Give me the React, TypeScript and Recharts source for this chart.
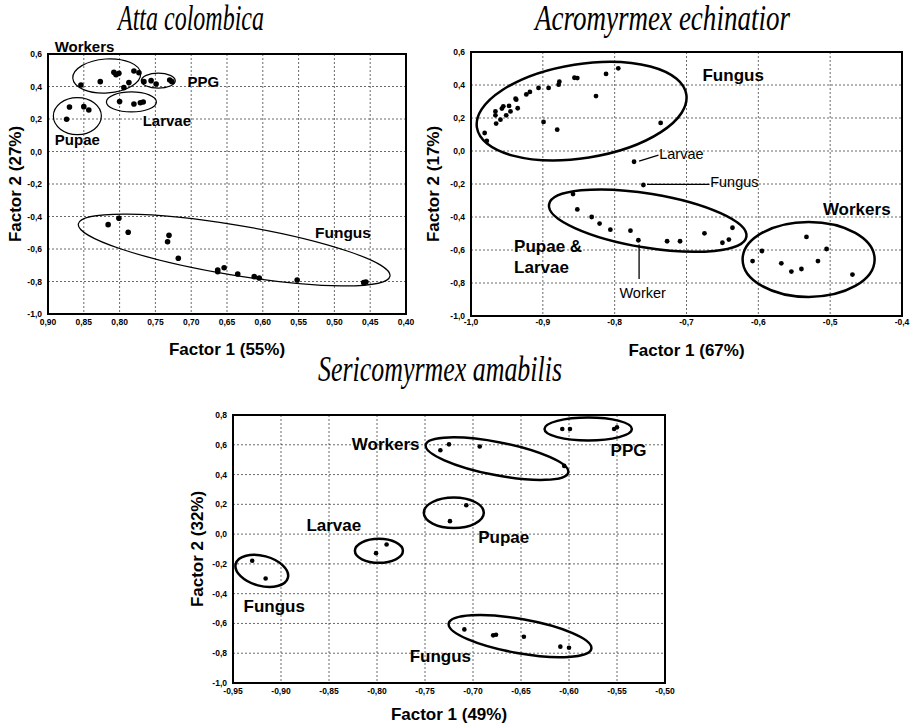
import {
  CartesianGrid, ReferenceArea, ReferenceDot, ReferenceLine,
  Scatter, ScatterChart, XAxis, YAxis,
} from "recharts";

type Pt = [number, number];

// Atta colombica
const attaWorkers: Pt[] = [[0.854, 0.409], [0.827, 0.43], [0.808, 0.487], [0.805, 0.473], [0.801, 0.481], [0.794, 0.393], [0.787, 0.424], [0.78, 0.495], [0.773, 0.485]];
const attaPPG: Pt[] = [[0.766, 0.43], [0.756, 0.436], [0.749, 0.415], [0.73, 0.44], [0.727, 0.43]];
const attaLarvae: Pt[] = [[0.8, 0.307], [0.78, 0.292], [0.771, 0.3], [0.767, 0.305]];
const attaPupae: Pt[] = [[0.874, 0.198], [0.87, 0.274], [0.85, 0.276], [0.843, 0.255]];
const attaFungus: Pt[] = [[0.816, -0.45], [0.801, -0.411], [0.788, -0.497], [0.733, -0.555], [0.731, -0.516], [0.718, -0.657], [0.663, -0.729], [0.663, -0.74], [0.654, -0.715], [0.635, -0.754], [0.612, -0.77], [0.605, -0.778], [0.552, -0.791], [0.459, -0.807], [0.456, -0.803]];

// Acromyrmex echinatior
const acroFungus: Pt[] = [[-0.981, 0.109], [-0.978, 0.061], [-0.966, 0.24], [-0.966, 0.216], [-0.965, 0.166], [-0.959, 0.19], [-0.957, 0.257], [-0.955, 0.271], [-0.951, 0.216], [-0.947, 0.273], [-0.945, 0.24], [-0.938, 0.317], [-0.937, 0.311], [-0.935, 0.259], [-0.923, 0.343], [-0.918, 0.358], [-0.906, 0.382], [-0.899, 0.176], [-0.892, 0.382], [-0.878, 0.402], [-0.877, 0.42], [-0.88, 0.129], [-0.856, 0.444], [-0.852, 0.442], [-0.826, 0.333], [-0.812, 0.467], [-0.795, 0.501], [-0.736, 0.17]];
const acroLoneLarvae: Pt[] = [[-0.773, -0.065]];
const acroLoneFungus: Pt[] = [[-0.76, -0.206]];
const acroPupaeLarvae: Pt[] = [[-0.858, -0.261], [-0.852, -0.354], [-0.832, -0.4], [-0.821, -0.44], [-0.806, -0.477], [-0.778, -0.483], [-0.767, -0.541], [-0.727, -0.547], [-0.709, -0.547], [-0.675, -0.499], [-0.65, -0.556], [-0.641, -0.537], [-0.636, -0.465]];
const acroWorkers: Pt[] = [[-0.608, -0.667], [-0.595, -0.606], [-0.568, -0.681], [-0.554, -0.731], [-0.54, -0.715], [-0.533, -0.521], [-0.517, -0.667], [-0.505, -0.594], [-0.469, -0.749]];

// Sericomyrmex amabilis
const seriPPG: Pt[] = [[-0.607, 0.706], [-0.599, 0.706], [-0.553, 0.706], [-0.55, 0.717]];
const seriWorkers: Pt[] = [[-0.734, 0.563], [-0.725, 0.603], [-0.693, 0.588], [-0.605, 0.458]];
const seriPupae: Pt[] = [[-0.707, 0.194], [-0.724, 0.087]];
const seriLarvae: Pt[] = [[-0.801, -0.128], [-0.79, -0.07]];
const seriFungusA: Pt[] = [[-0.93, -0.179], [-0.916, -0.298]];
const seriFungusB: Pt[] = [[-0.709, -0.64], [-0.679, -0.68], [-0.676, -0.676], [-0.647, -0.689], [-0.609, -0.756], [-0.6, -0.763]];

const yTicksA = [-1, -0.8, -0.6, -0.4, -0.2, 0, 0.2, 0.4, 0.6];
const xTicksA = [0.4, 0.45, 0.5, 0.55, 0.6, 0.65, 0.7, 0.75, 0.8, 0.85, 0.9];
const xTicksB = [-1, -0.9, -0.8, -0.7, -0.6, -0.5, -0.4];
const yTicksC = [-1, -0.8, -0.6, -0.4, -0.2, 0, 0.2, 0.4, 0.6, 0.8];
const xTicksC = [-0.95, -0.9, -0.85, -0.8, -0.75, -0.7, -0.65, -0.6, -0.55, -0.5];

type Ring = { x: number; y: number; rx: number; ry: number; angle: number };
type Tag = { x: number; y: number; text: string; size: number; bold: boolean; anchor: "start" | "middle" | "end" };
type Leader = { x1: number; y1: number; x2: number; y2: number };

const attaRings: Ring[] = [
  { x: 0.818, y: 0.465, rx: 34, ry: 17, angle: -4 },
  { x: 0.746, y: 0.436, rx: 17, ry: 7.5, angle: 0 },
  { x: 0.7835, y: 0.305, rx: 25, ry: 10, angle: 0 },
  { x: 0.859, y: 0.218, rx: 24, ry: 18.5, angle: 0 },
  { x: 0.64, y: -0.606, rx: 158, ry: 25, angle: 9.5 },
];
const attaTags: Tag[] = [
  { x: 0.849, y: 0.643, text: "Workers", size: 15, bold: true, anchor: "middle" },
  { x: 0.683, y: 0.43, text: "PPG", size: 15, bold: true, anchor: "middle" },
  { x: 0.734, y: 0.188, text: "Larvae", size: 15, bold: true, anchor: "middle" },
  { x: 0.859, y: 0.071, text: "Pupae", size: 15, bold: true, anchor: "middle" },
  { x: 0.488, y: -0.499, text: "Fungus", size: 15.5, bold: true, anchor: "middle" },
];

const acroRings: Ring[] = [
  { x: -0.846, y: 0.242, rx: 106, ry: 47, angle: -9 },
  { x: -0.754, y: -0.422, rx: 100, ry: 27, angle: 9.3 },
  { x: -0.53, y: -0.657, rx: 66, ry: 37.5, angle: 0 },
];
const acroTags: Tag[] = [
  { x: -0.635, y: 0.459, text: "Fungus", size: 17, bold: true, anchor: "middle" },
  { x: -0.463, y: -0.349, text: "Workers", size: 17, bold: true, anchor: "middle" },
  { x: -0.94, y: -0.576, text: "Pupae &", size: 17, bold: true, anchor: "start" },
  { x: -0.94, y: -0.703, text: "Larvae", size: 17, bold: true, anchor: "start" },
  { x: -0.738, y: -0.016, text: "Larvae", size: 14.5, bold: false, anchor: "start" },
  { x: -0.667, y: -0.188, text: "Fungus", size: 14.5, bold: false, anchor: "start" },
  { x: -0.761, y: -0.861, text: "Worker", size: 14.5, bold: false, anchor: "middle" },
];
const acroLeaders: Leader[] = [
  { x1: -0.766, y1: -0.061, x2: -0.739, y2: -0.025 },
  { x1: -0.755, y1: -0.202, x2: -0.668, y2: -0.202 },
  { x1: -0.766, y1: -0.566, x2: -0.766, y2: -0.775 },
];

const seriRings: Ring[] = [
  { x: -0.58, y: 0.706, rx: 43.7, ry: 11.5, angle: 0 },
  { x: -0.675, y: 0.507, rx: 72.6, ry: 16.5, angle: 11 },
  { x: -0.72, y: 0.143, rx: 30, ry: 15.3, angle: 0 },
  { x: -0.798, y: -0.112, rx: 24, ry: 12, angle: 0 },
  { x: -0.92, y: -0.247, rx: 27, ry: 15, angle: 15 },
  { x: -0.651, y: -0.685, rx: 72.4, ry: 17.1, angle: 10 },
];
const seriTags: Tag[] = [
  { x: -0.791, y: 0.605, text: "Workers", size: 17, bold: true, anchor: "middle" },
  { x: -0.538, y: 0.565, text: "PPG", size: 17, bold: true, anchor: "middle" },
  { x: -0.845, y: 0.062, text: "Larvae", size: 17, bold: true, anchor: "middle" },
  { x: -0.668, y: -0.016, text: "Pupae", size: 17, bold: true, anchor: "middle" },
  { x: -0.907, y: -0.481, text: "Fungus", size: 17, bold: true, anchor: "middle" },
  { x: -0.734, y: -0.821, text: "Fungus", size: 17, bold: true, anchor: "middle" },
];

const SANS = "'Liberation Sans', Arial, sans-serif";
const tickStyle = { fontSize: 8.5, fontWeight: 700, fill: "#000", fontFamily: SANS };
const axisTitleStyle = { fontSize: 17, fontWeight: 700, fontFamily: SANS };
const comma = (d: number) => (v: number) => v.toFixed(d).replace(".", ",");
const rows = (pts: Pt[]) => pts.map(([x, y]) => ({ x, y }));

type PanelProps = {
  left: number; top: number; width: number; height: number;
  margin: { top: number; right: number; bottom: number; left: number };
  yAxisWidth: number; xAxisHeight: number;
  xDomain: [number, number]; yDomain: [number, number];
  xTicks: number[]; yTicks: number[]; xDigits: number; reversed?: boolean;
  groups: Pt[][]; dotR: number;
  rings: Ring[]; ringWidth: number; tags: Tag[]; leaders?: Leader[];
  xTitle: string; yTitle: string; xTitleDy: number; yTitleDx: number;
  xTickGap: number; frameWidth: number;
};

function Panel(p: PanelProps) {
  const [x1, x2] = p.xDomain;
  const [y1, y2] = p.yDomain;
  return (
    <div style={{ position: "absolute", left: p.left, top: p.top }}>
      <ScatterChart width={p.width} height={p.height} margin={p.margin}>
        <CartesianGrid stroke="#444" strokeDasharray="2 2" strokeWidth={0.8} />
        <XAxis
          type="number" dataKey="x" domain={p.xDomain} ticks={p.xTicks} reversed={p.reversed}
          allowDataOverflow interval={0} axisLine={false} tickLine={false}
          tickSize={p.xTickGap} tickMargin={2} height={p.xAxisHeight}
          tick={tickStyle} tickFormatter={comma(p.xDigits)}
          label={{
            content: (lp: any) => {
              const vb = lp.viewBox;
              return (
                <text x={vb.x + vb.width / 2} y={vb.y + p.xTitleDy} textAnchor="middle"
                  style={axisTitleStyle} fill="#000">
                  {p.xTitle}
                </text>
              );
            },
          }}
        />
        <YAxis
          type="number" dataKey="y" domain={p.yDomain} ticks={p.yTicks}
          allowDataOverflow interval={0} axisLine={false} tickLine={false}
          tickSize={4} tickMargin={2} width={p.yAxisWidth}
          tick={tickStyle} tickFormatter={comma(1)}
          label={{
            content: (lp: any) => {
              const vb = lp.viewBox;
              const cx = vb.x + p.yTitleDx;
              const cy = vb.y + vb.height / 2;
              return (
                <text x={cx} y={cy} textAnchor="middle" transform={`rotate(-90 ${cx} ${cy})`}
                  style={axisTitleStyle} fill="#000">
                  {p.yTitle}
                </text>
              );
            },
          }}
        />
        <ReferenceArea x1={x1} x2={x2} y1={y1} y2={y2} fill="none" fillOpacity={0}
          stroke="#000" strokeWidth={p.frameWidth} ifOverflow="visible" />
        {p.groups.map((g, i) => (
          <Scatter key={i} data={rows(g)} isAnimationActive={false}
            shape={(s: any) => <circle cx={s.cx} cy={s.cy} r={p.dotR} fill="#000" />} />
        ))}
        {p.rings.map((r, i) => (
          <ReferenceDot key={`r${i}`} x={r.x} y={r.y} ifOverflow="visible"
            shape={(s: any) => (
              <ellipse cx={s.cx} cy={s.cy} rx={r.rx} ry={r.ry} fill="none" stroke="#000"
                strokeWidth={p.ringWidth} transform={`rotate(${r.angle} ${s.cx} ${s.cy})`} />
            )} />
        ))}
        {(p.leaders || []).map((l, i) => (
          <ReferenceLine key={`l${i}`} segment={[{ x: l.x1, y: l.y1 }, { x: l.x2, y: l.y2 }]}
            stroke="#000" strokeWidth={1.3} ifOverflow="visible" />
        ))}
        {p.tags.map((t, i) => (
          <ReferenceDot key={`t${i}`} x={t.x} y={t.y} ifOverflow="visible"
            shape={(s: any) => (
              <text x={s.cx} y={s.cy + t.size * 0.36} textAnchor={t.anchor} fill="#000"
                style={{ fontSize: t.size, fontWeight: t.bold ? 700 : 400, fontFamily: SANS }}>
                {t.text}
              </text>
            )} />
        ))}
      </ScatterChart>
    </div>
  );
}

const titleStyle = { fontSize: 35, fontStyle: "italic", fontFamily: "'Liberation Serif', 'Times New Roman', serif" };

export default function App() {
  return (
    <div style={{ position: "relative", width: 912, height: 727, background: "#fff", overflow: "hidden" }}>
      <style>{`body{margin:0}`}</style>
      <Panel
        left={0} top={0} width={450} height={370}
        margin={{ top: 54, right: 44, bottom: 12, left: 0 }} yAxisWidth={48} xAxisHeight={44}
        xDomain={[0.4, 0.9]} yDomain={[-1, 0.6]} xTicks={xTicksA} yTicks={yTicksA} xDigits={2} reversed
        groups={[attaWorkers, attaPPG, attaLarvae, attaPupae, attaFungus]} dotR={2.8}
        rings={attaRings} ringWidth={1.2} tags={attaTags}
        xTitle="Factor 1 (55%)" yTitle="Factor 2 (27%)" xTitleDy={41} yTitleDx={21}
        xTickGap={3} frameWidth={2}
      />
      <Panel
        left={420} top={0} width={492} height={370}
        margin={{ top: 52, right: 10, bottom: 10, left: 0 }} yAxisWidth={51} xAxisHeight={44}
        xDomain={[-1, -0.4]} yDomain={[-1, 0.6]} xTicks={xTicksB} yTicks={yTicksA} xDigits={1}
        groups={[acroFungus, acroLoneLarvae, acroLoneFungus, acroPupaeLarvae, acroWorkers]} dotR={2.4}
        rings={acroRings} ringWidth={2.5} tags={acroTags} leaders={acroLeaders}
        xTitle="Factor 1 (67%)" yTitle="Factor 2 (17%)" xTitleDy={40} yTitleDx={19}
        xTickGap={1} frameWidth={2}
      />
      <Panel
        left={180} top={390} width={500} height={337}
        margin={{ top: 25, right: 15, bottom: 4, left: 0 }} yAxisWidth={53} xAxisHeight={40}
        xDomain={[-0.95, -0.5]} yDomain={[-1, 0.8]} xTicks={xTicksC} yTicks={yTicksC} xDigits={2}
        groups={[seriPPG, seriWorkers, seriPupae, seriLarvae, seriFungusA, seriFungusB]} dotR={2.3}
        rings={seriRings} ringWidth={2.5} tags={seriTags}
        xTitle="Factor 1 (49%)" yTitle="Factor 2 (32%)" xTitleDy={37} yTitleDx={23}
        xTickGap={3} frameWidth={2}
      />
      <svg width={912} height={727} style={{ position: "absolute", left: 0, top: 0, pointerEvents: "none" }}>
        <text x={118} y={30} textLength={146} lengthAdjust="spacingAndGlyphs" style={titleStyle}>Atta colombica</text>
        <text x={535} y={30} textLength={255} lengthAdjust="spacingAndGlyphs" style={titleStyle}>Acromyrmex echinatior</text>
        <text x={318} y={381} textLength={244} lengthAdjust="spacingAndGlyphs" style={titleStyle}>Sericomyrmex amabilis</text>
      </svg>
    </div>
  );
}
